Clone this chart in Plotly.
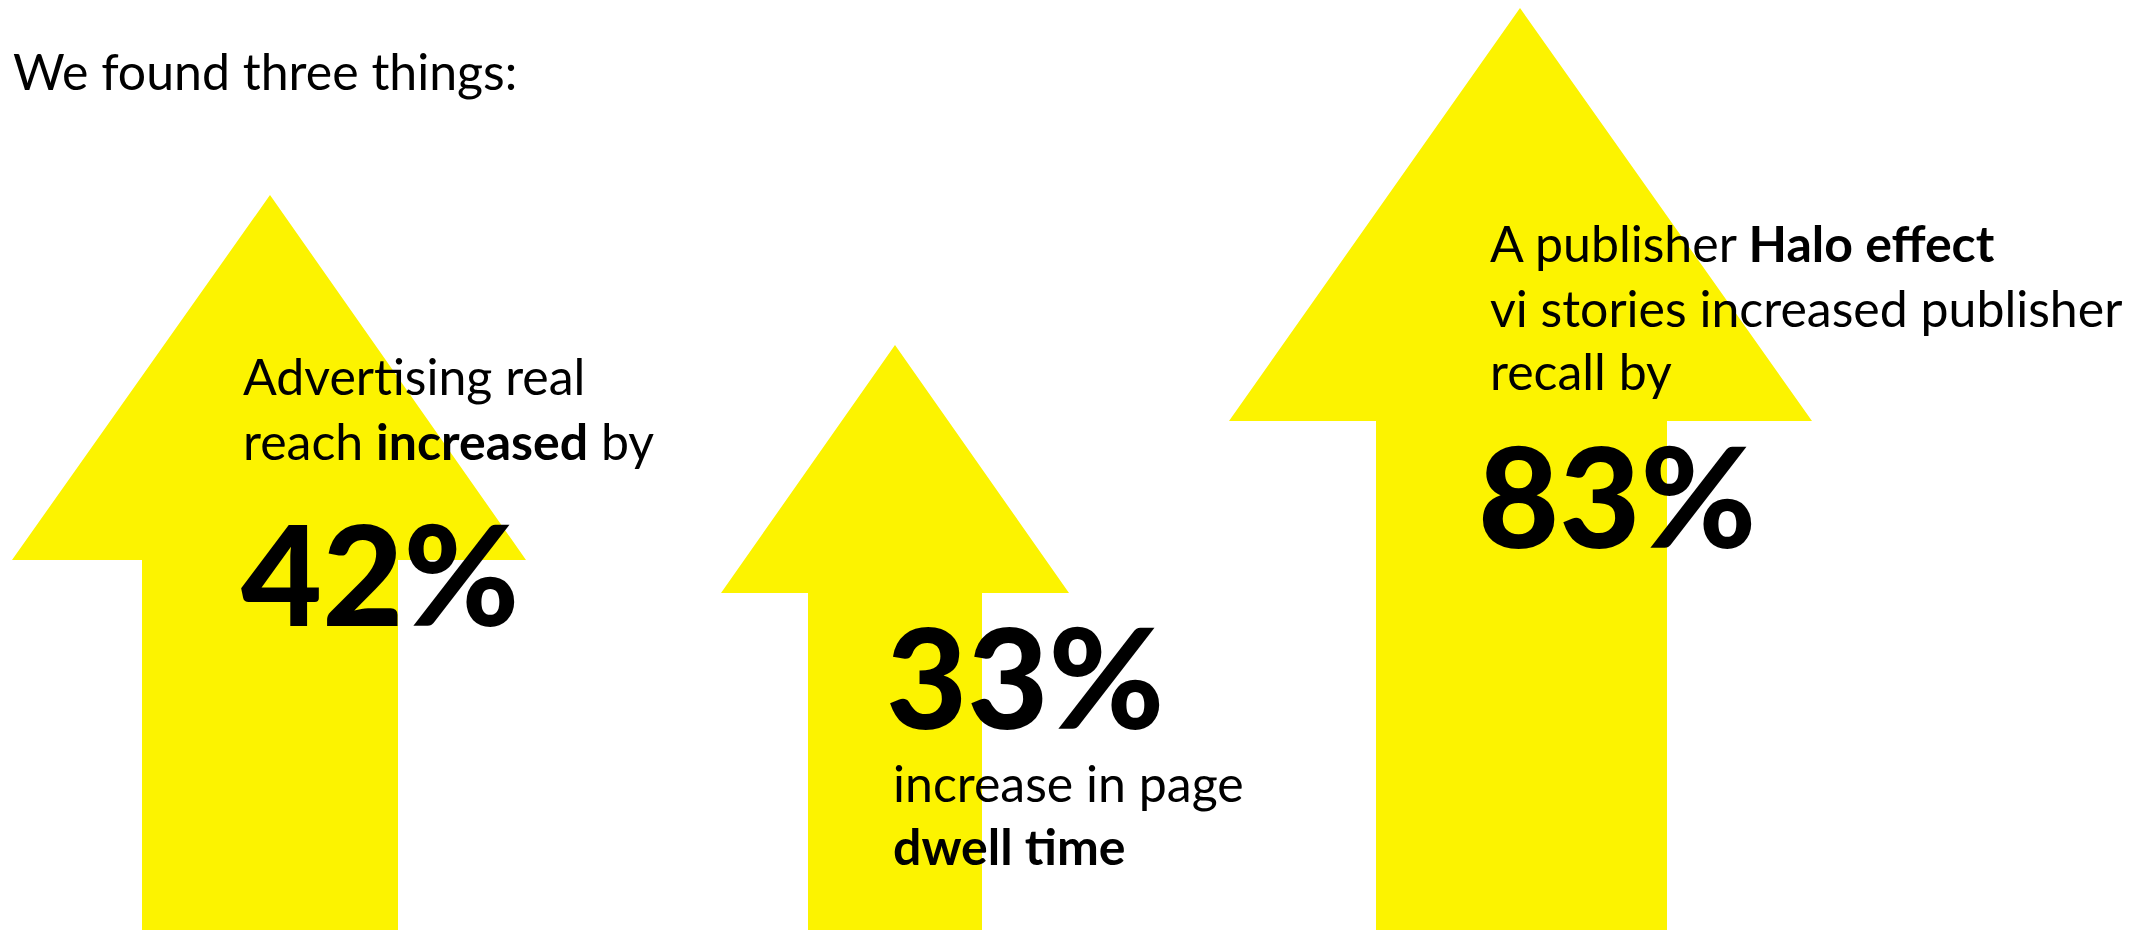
import plotly.graph_objects as go

# ---- data ----
headline = "We found three things:"
pct_values = [42, 33, 83]
pct_labels = [f"{v}%" for v in pct_values]
captions = [
    ["Advertising real", "reach <b>increased</b> by"],
    ["increase in page", "<b>dwell time</b>"],
    ["A publisher <b>Halo effect</b>", "vi stories increased publisher", "recall by"],
]

# ---- layout geometry (pixels in a 2136 x 930 canvas, y downwards) ----
W, H = 2136, 930
arrow_geo = [
    dict(tip=(270, 195), base=560, head=(12, 526), shaft=(142, 398)),
    dict(tip=(895, 345), base=593, head=(721, 1069), shaft=(808, 982)),
    dict(tip=(1520, 8), base=421, head=(1229, 1812), shaft=(1376, 1667)),
]
pct_pos = [(240, 626), (885, 729), (1477, 548)]           # left x, baseline y
cap_pos = [(242, [395, 460], 50), (892, [802, 865], 50), (1489, [262, 327, 390], 50)]
pct_size = 140

FONT = "Lato"
YELLOW = "#FCF300"
ASC = 0.387  # offset from baseline to bbox middle (in em)

fig = go.Figure()
for g in arrow_geo:
    tx, ty = g["tip"]
    hl, hr = g["head"]
    sl, sr = g["shaft"]
    b = g["base"]
    xs = [tx, hr, sr, sr, sl, sl, hl, tx]
    ys = [ty, b, b, H, H, b, b, ty]
    fig.add_trace(go.Scatter(x=xs, y=ys, mode="lines", fill="toself",
                             fillcolor=YELLOW, line=dict(width=0, color=YELLOW),
                             hoverinfo="skip", showlegend=False))

def add_text(txt, x, baseline, size, weight="normal"):
    fig.add_annotation(x=x, y=baseline - ASC * size, xref="x", yref="y",
                       text=txt, showarrow=False, xanchor="left", yanchor="middle",
                       borderpad=0,
                       font=dict(family=FONT, size=size, color="#000000", weight=weight))

add_text(headline, 12, 90, 50)
for lbl, (px, pb) in zip(pct_labels, pct_pos):
    add_text(lbl, px, pb, pct_size, weight=900)
for lines, (cx, bls, sz) in zip(captions, cap_pos):
    for ln, bl in zip(lines, bls):
        add_text(ln, cx, bl, sz)

fig.update_layout(
    width=W, height=H, margin=dict(l=0, r=0, t=0, b=0),
    paper_bgcolor="white", plot_bgcolor="white", showlegend=False,
    xaxis=dict(range=[0, W], visible=False, fixedrange=True),
    yaxis=dict(range=[H, 0], visible=False, fixedrange=True),
)
fig.write_html("out.html")
